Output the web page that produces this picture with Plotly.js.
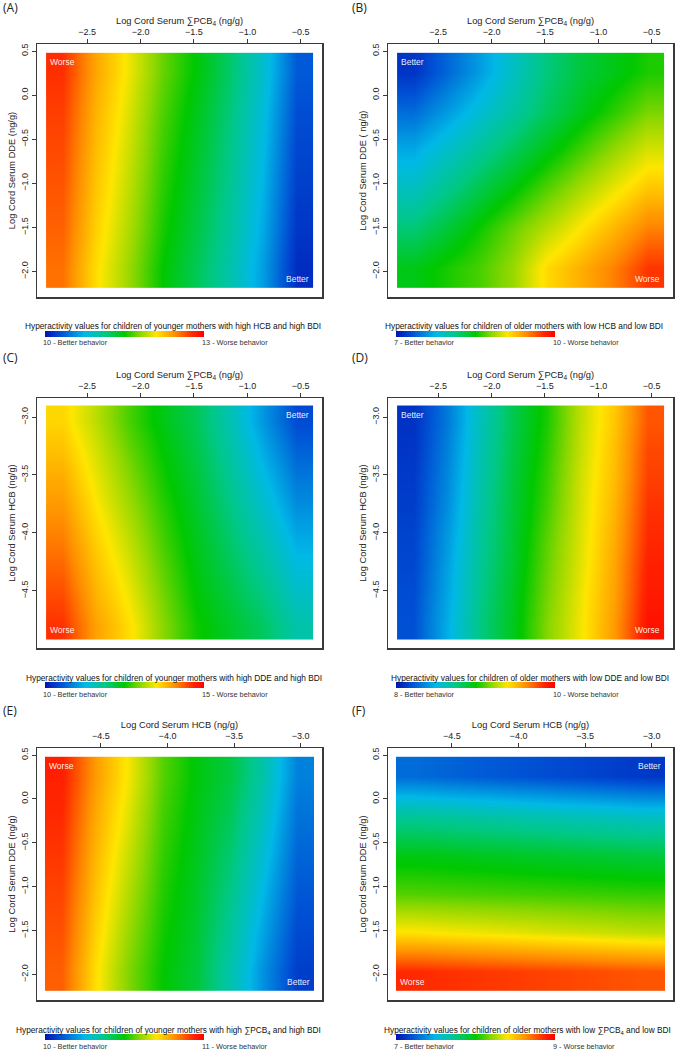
<!DOCTYPE html>
<html>
<head>
<meta charset="utf-8">
<script src="https://cdn.plot.ly/plotly-3.0.1.min.js"></script>
<style>html,body{margin:0;padding:0;background:#fff;}#chart{width:677px;height:1050px;}</style>
</head>
<body>
<div id="chart"></div>
<script>
// ---------- DATA ----------
// grid cell edges (log ng/g)
const pcbEdges = [-2.885, -2.5725, -2.26, -1.9475, -1.635, -1.3225, -1.01, -0.6975, -0.385];
const ddeEdges = [-2.19, -1.745, -1.30, -0.855, -0.41, 0.035, 0.48];
const hcbEdges = [-4.92, -4.6675, -4.415, -4.1625, -3.91, -3.6575, -3.405, -3.1525, -2.90];

// predicted hyperactivity values, rows = y ascending, cols = x ascending
const zA = [
  [12.55, 12.13, 11.83, 11.50, 11.26, 10.99, 10.63, 10.12],
  [12.60, 12.18, 11.88, 11.55, 11.31, 11.04, 10.68, 10.17],
  [12.64, 12.22, 11.92, 11.59, 11.35, 11.08, 10.72, 10.21],
  [12.68, 12.26, 11.96, 11.63, 11.39, 11.12, 10.76, 10.25],
  [12.72, 12.30, 12.00, 11.67, 11.43, 11.16, 10.80, 10.29],
  [12.77, 12.35, 12.05, 11.72, 11.48, 11.21, 10.85, 10.34]
];
const zB = [
  [8.44, 8.55, 8.66, 8.84, 9.15, 9.32, 9.50, 9.75],
  [8.18, 8.35, 8.54, 8.73, 8.92, 9.11, 9.30, 9.50],
  [7.92, 8.11, 8.31, 8.49, 8.69, 8.88, 9.06, 9.24],
  [7.69, 7.88, 8.07, 8.26, 8.45, 8.64, 8.83, 9.00],
  [7.42, 7.62, 7.83, 8.03, 8.24, 8.42, 8.59, 8.76],
  [7.16, 7.40, 7.64, 7.90, 8.16, 8.33, 8.44, 8.56]
];
const zC = [
  [14.60, 13.95, 13.55, 13.00, 12.55, 12.30, 12.05, 11.65],
  [14.46, 13.84, 13.43, 12.92, 12.48, 12.20, 11.90, 11.48],
  [14.31, 13.74, 13.32, 12.83, 12.42, 12.10, 11.75, 11.31],
  [14.17, 13.63, 13.21, 12.74, 12.36, 12.00, 11.60, 11.14],
  [14.03, 13.52, 13.09, 12.66, 12.30, 11.90, 11.45, 10.96],
  [13.89, 13.41, 12.98, 12.57, 12.23, 11.80, 11.30, 10.79],
  [13.74, 13.31, 12.86, 12.49, 12.16, 11.70, 11.15, 10.62],
  [13.60, 13.20, 12.75, 12.40, 12.10, 11.60, 11.00, 10.45]
];
const zD = [
  [8.20, 8.47, 8.76, 8.95, 9.19, 9.38, 9.60, 9.94],
  [8.19, 8.45, 8.74, 8.94, 9.17, 9.37, 9.58, 9.91],
  [8.17, 8.43, 8.72, 8.92, 9.15, 9.35, 9.57, 9.89],
  [8.16, 8.41, 8.70, 8.91, 9.13, 9.34, 9.55, 9.86],
  [8.14, 8.38, 8.68, 8.90, 9.10, 9.33, 9.53, 9.84],
  [8.13, 8.36, 8.66, 8.89, 9.08, 9.32, 9.51, 9.81],
  [8.11, 8.34, 8.64, 8.87, 9.06, 9.30, 9.50, 9.79],
  [8.10, 8.32, 8.62, 8.86, 9.04, 9.29, 9.48, 9.76]
];
const zE = [
  [10.870, 10.710, 10.590, 10.500, 10.445, 10.330, 10.190, 10.070],
  [10.885, 10.728, 10.610, 10.512, 10.454, 10.352, 10.218, 10.090],
  [10.900, 10.746, 10.630, 10.524, 10.463, 10.374, 10.246, 10.110],
  [10.915, 10.764, 10.650, 10.536, 10.472, 10.396, 10.274, 10.130],
  [10.930, 10.782, 10.670, 10.548, 10.481, 10.418, 10.302, 10.150],
  [10.945, 10.800, 10.690, 10.560, 10.490, 10.440, 10.330, 10.170]
];
const zF = [
  [8.860, 8.846, 8.831, 8.817, 8.803, 8.789, 8.774, 8.760],
  [8.408, 8.391, 8.374, 8.357, 8.339, 8.322, 8.305, 8.288],
  [8.114, 8.107, 8.101, 8.094, 8.088, 8.081, 8.075, 8.068],
  [7.960, 7.949, 7.937, 7.926, 7.914, 7.903, 7.891, 7.880],
  [7.700, 7.683, 7.666, 7.649, 7.631, 7.614, 7.597, 7.580],
  [7.280, 7.257, 7.234, 7.211, 7.189, 7.166, 7.143, 7.120]
];

// colour-bar ends (better, worse)
const scaleMin = [10, 7, 10, 8, 10, 7];
const scaleMax = [13, 10, 15, 10, 11, 9];

const panelLetters = ['(A)', '(B)', '(C)', '(D)', '(E)', '(F)'];
const captions = [
  'Hyperactivity values for children of younger mothers with high HCB and high BDI',
  'Hyperactivity values for children of older mothers with low HCB and low BDI',
  'Hyperactivity values for children of younger mothers with high DDE and high BDI',
  'Hyperactivity values for children of older mothers with low DDE and low BDI',
  'Hyperactivity values for children of younger mothers with high \u2211PCB<sub>4</sub> and high BDI',
  'Hyperactivity values for children of older mothers with low \u2211PCB<sub>4</sub> and low BDI'
];
const xTitles = ['Log Cord Serum \u2211PCB<sub>4</sub> (ng/g)', 'Log Cord Serum \u2211PCB<sub>4</sub> (ng/g)',
  'Log Cord Serum \u2211PCB<sub>4</sub> (ng/g)', 'Log Cord Serum \u2211PCB<sub>4</sub> (ng/g)',
  'Log Cord Serum HCB (ng/g)', 'Log Cord Serum HCB (ng/g)'];
const yTitles = ['Log Cord Serum DDE (ng/g)', 'Log Cord Serum DDE ( ng/g)', 'Log Cord Serum HCB (ng/g)',
  'Log Cord Serum HCB (ng/g)', 'Log Cord Serum DDE (ng/g)', 'Log Cord Serum DDE (ng/g)'];
const pcbTicks = [-2.5, -2.0, -1.5, -1.0, -0.5];
const ddeTicks = [0.5, 0.0, -0.5, -1.0, -1.5, -2.0];
const hcbTicksY = [-3.0, -3.5, -4.0, -4.5];
const hcbTicksX = [-4.5, -4.0, -3.5, -3.0];
// corner labels: [top label, bottom label, top side, bottom side]
const corners = [
  ['Worse', 'Better', 'left', 'right'],
  ['Better', 'Worse', 'left', 'right'],
  ['Better', 'Worse', 'right', 'left'],
  ['Better', 'Worse', 'left', 'right'],
  ['Worse', 'Better', 'left', 'right'],
  ['Better', 'Worse', 'right', 'left']
];

// ---------- STYLE / LAYOUT ----------
const W = 677, H = 1050;
const FONT = 'Liberation Sans, Arial, sans-serif';
const cscale = [
  [0, 'rgb(0,20,178)'], [0.1, 'rgb(0,80,212)'], [0.25, 'rgb(0,185,230)'],
  [0.37, 'rgb(0,200,140)'], [0.5, 'rgb(0,200,0)'], [0.6, 'rgb(140,215,0)'],
  [0.7, 'rgb(255,230,0)'], [0.82, 'rgb(255,140,0)'], [0.93, 'rgb(255,40,0)'], [1, 'rgb(255,0,0)']
];
const px = v => v / W, py = v => 1 - v / H;
const cols = [[37, 322], [388, 673]];
const rows = [[44, 297], [398, 648], [748, 1000]];
const capY = [326, 678, 1030];
const barY = [334, 685.5, 1037];
const labY = [342, 694, 1046];
const letterY = [7, 358, 710];
const capX = [173, 524, 174, 530, 168, 527];
const barX = [45, 396];

const panels = [
  {x: pcbEdges, y: ddeEdges, z: zA, xr: [-2.97, -0.30], yr: [-2.29, 0.58], xt: pcbTicks, yt: ddeTicks},
  {x: pcbEdges, y: ddeEdges, z: zB, xr: [-2.97, -0.30], yr: [-2.29, 0.58], xt: pcbTicks, yt: ddeTicks},
  {x: pcbEdges, y: hcbEdges, z: zC, xr: [-2.97, -0.30], yr: [-4.995, -2.835], xt: pcbTicks, yt: hcbTicksY},
  {x: pcbEdges, y: hcbEdges, z: zD, xr: [-2.97, -0.30], yr: [-4.995, -2.835], xt: pcbTicks, yt: hcbTicksY},
  {x: hcbEdges, y: ddeEdges, z: zE, xr: [-4.98, -2.84], yr: [-2.29, 0.58], xt: hcbTicksX, yt: ddeTicks},
  {x: hcbEdges, y: ddeEdges, z: zF, xr: [-4.98, -2.84], yr: [-2.29, 0.58], xt: hcbTicksX, yt: ddeTicks}
];

const data = [];
const layout = {
  width: W, height: H, margin: {l: 0, r: 0, t: 0, b: 0},
  paper_bgcolor: '#fff', plot_bgcolor: '#fff', showlegend: false,
  font: {family: FONT, size: 9, color: '#222'},
  annotations: []
};

panels.forEach((p, i) => {
  const c = i % 2, r = Math.floor(i / 2);
  const xn = i === 0 ? '' : String(i + 1);
  const xa = 'x' + xn, ya = 'y' + xn;
  data.push({
    type: 'heatmap', x: p.x, y: p.y, z: p.z, zsmooth: 'best',
    colorscale: cscale, zmin: scaleMin[i], zmax: scaleMax[i],
    xaxis: xa, yaxis: ya, hoverinfo: 'skip', showscale: true,
    colorbar: {
      orientation: 'h', x: px(barX[c]), xanchor: 'left', y: py(barY[r]), yanchor: 'middle',
      len: 159 / W, lenmode: 'fraction', thickness: 6, thicknessmode: 'pixels',
      outlinewidth: 0, xpad: 0, ypad: 0, showticklabels: false, ticks: ''
    }
  });
  const axCommon = {
    showline: true, mirror: true, linecolor: '#3a3a3a', linewidth: 1.5,
    ticks: 'outside', ticklen: 4, tickwidth: 1, tickcolor: '#3a3a3a',
    showgrid: false, zeroline: false, tickformat: '.1f', fixedrange: true,
    tickfont: {family: FONT, size: 9, color: '#222'}
  };
  layout['xaxis' + xn] = Object.assign({}, axCommon, {
    domain: [px(cols[c][0]), px(cols[c][1])], range: p.xr, side: 'top', anchor: ya,
    tickvals: p.xt, title: {text: xTitles[i], font: {family: FONT, size: 9.3, color: '#222'}, standoff: 0}
  });
  layout['yaxis' + xn] = Object.assign({}, axCommon, {
    domain: [py(rows[r][1]), py(rows[r][0])], range: p.yr, anchor: xa, tickangle: -90,
    tickvals: p.yt, title: {text: yTitles[i], font: {family: FONT, size: 9.3, color: '#222'}, standoff: 2}
  });
  const xl = p.x[0], xh = p.x[p.x.length - 1], yl = p.y[0], yh = p.y[p.y.length - 1];
  const cn = corners[i];
  const lbl = {family: FONT, size: 8.5, color: 'rgba(255,255,255,0.92)'};
  layout.annotations.push({
    xref: xa, yref: ya, x: cn[2] === 'left' ? xl : xh, y: yh, text: cn[0], showarrow: false,
    xanchor: cn[2], yanchor: 'top', xshift: cn[2] === 'left' ? 2 : -2, yshift: -2, font: lbl
  });
  layout.annotations.push({
    xref: xa, yref: ya, x: cn[3] === 'left' ? xl : xh, y: yl, text: cn[1], showarrow: false,
    xanchor: cn[3], yanchor: 'bottom', xshift: cn[3] === 'left' ? 2 : -2, yshift: 2, font: lbl
  });
  layout.annotations.push({
    xref: 'paper', yref: 'paper', x: px(capX[i]), y: py(capY[r]), text: captions[i], showarrow: false,
    xanchor: 'center', yanchor: 'middle', font: {family: FONT, size: 8.3, color: '#111'}
  });
  layout.annotations.push({
    xref: 'paper', yref: 'paper', x: px(barX[c] - 4), y: py(labY[r]), text: scaleMin[i] + ' - Better behavior',
    showarrow: false, xanchor: 'left', yanchor: 'middle', font: {family: FONT, size: 7.3, color: '#333'}
  });
  layout.annotations.push({
    xref: 'paper', yref: 'paper', x: px(barX[c] + 155), y: py(labY[r]), text: scaleMax[i] + ' - Worse behavior',
    showarrow: false, xanchor: 'left', yanchor: 'middle', font: {family: FONT, size: 7.3, color: '#333'}
  });
  layout.annotations.push({
    xref: 'paper', yref: 'paper', x: px(c === 0 ? 1 : 350), y: py(letterY[r]), text: panelLetters[i],
    showarrow: false, xanchor: 'left', yanchor: 'middle', font: {family: 'Open Sans, sans-serif', size: 12, color: '#222'}
  });
});

Plotly.newPlot('chart', data, layout, {staticPlot: true, displayModeBar: false});
</script>
</body>
</html>
